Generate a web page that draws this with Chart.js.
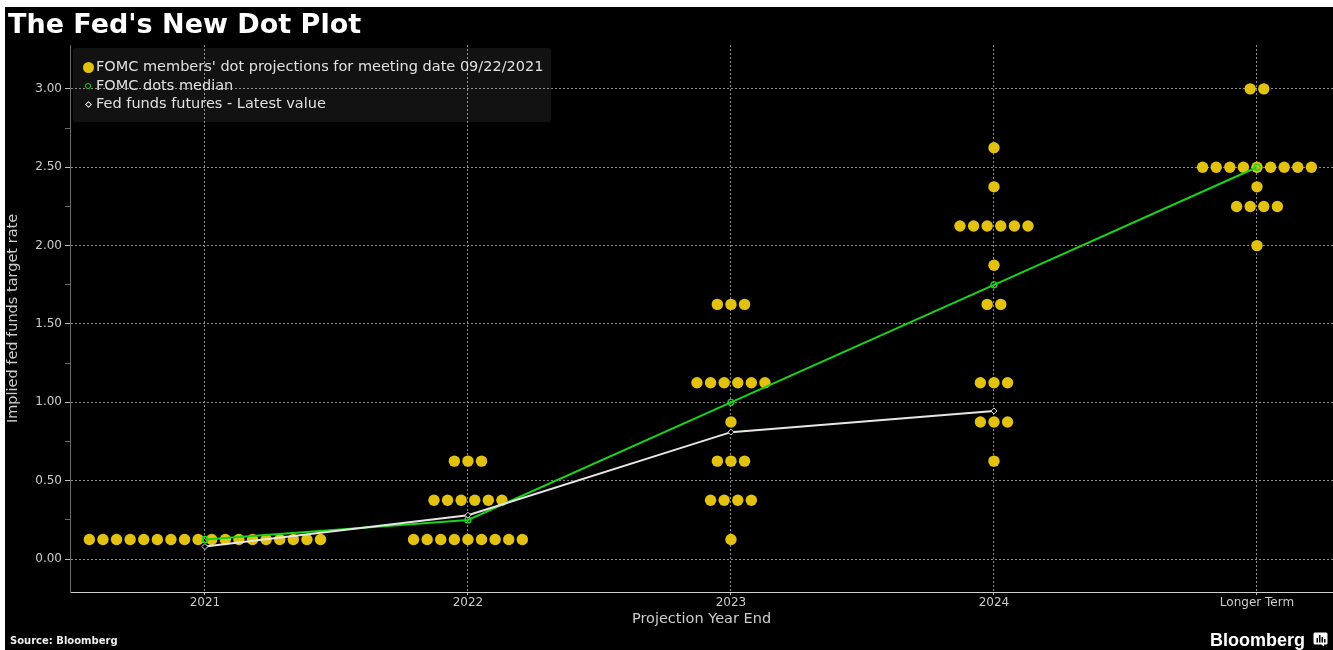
<!DOCTYPE html>
<html><head><meta charset="utf-8">
<script src="https://cdn.jsdelivr.net/npm/chart.js@4.4.1/dist/chart.umd.min.js"></script>
<style>
html,body{margin:0;padding:0;background:#fff;width:1333px;height:650px;overflow:hidden;}
#frame{position:absolute;left:5px;top:7px;width:1328px;height:643px;background:#000;overflow:hidden;}
#c{position:absolute;left:0;top:0;}
#title{position:absolute;left:3px;top:3px;font:bold 27px "DejaVu Sans";line-height:27px;color:#fff;white-space:nowrap;}
#legend{position:absolute;left:68px;top:41px;width:478px;height:74px;background:rgba(255,255,255,0.07);border-radius:3px;}
.row{position:absolute;left:23px;height:18px;line-height:18px;font:14.5px "DejaVu Sans";color:#e0e0e0;white-space:nowrap;}
.mk{position:absolute;box-sizing:border-box;}
#source{position:absolute;left:5px;top:629px;font:bold 10px "DejaVu Sans";line-height:10px;color:#eee;white-space:nowrap;}
#brand{position:absolute;left:1205px;top:624px;font:bold 18px "Liberation Sans";line-height:18px;color:#fff;white-space:nowrap;}
#icon{position:absolute;left:1308px;top:625px;}
</style>
</head><body>
<div id="frame">
  <canvas id="c" width="1328" height="643"></canvas>
  <div id="title">The Fed's New Dot Plot</div>
  <div id="legend">
    <div class="mk" style="left:9.5px;top:13.5px;width:11px;height:11px;border-radius:50%;background:#e2c111;"></div>
    <div class="row" style="top:10px;">FOMC members' dot projections for meeting date 09/22/2021</div>
    <div class="mk" style="left:12px;top:35px;width:6px;height:6px;border-radius:50%;border:1.3px solid #19d419;"></div>
    <div class="row" style="top:29px;">FOMC dots median</div>
    <div class="mk" style="left:12.5px;top:53.5px;width:5px;height:5px;border:1px solid #ddd;transform:rotate(45deg);"></div>
    <div class="row" style="top:47px;">Fed funds futures - Latest value</div>
  </div>
  <div id="source">Source: Bloomberg</div>
  <div id="brand">Bloomberg</div>
  <svg id="icon" width="15" height="15" viewBox="0 0 15 15">
    <path d="M2 0.5 H13 A1.5 1.5 0 0 1 14.5 2 V11 A1.5 1.5 0 0 1 13 12.5 H11 L11 14.5 L8.5 12.5 H2 A1.5 1.5 0 0 1 0.5 11 V2 A1.5 1.5 0 0 1 2 0.5 Z" fill="#fff"/>
    <rect x="3.5" y="6" width="1.5" height="4.5" fill="#000"/>
    <rect x="6" y="3" width="1.5" height="7.5" fill="#000"/>
    <rect x="8.5" y="5" width="1.5" height="5.5" fill="#000"/>
    <rect x="11" y="7" width="1.5" height="3.5" fill="#000"/>
  </svg>
</div>
<script>
// ---- data ----
const categories = ['2021', '2022', '2023', '2024', 'Longer Term'];
const dotRates = [
  [0.125],
  [0.125, 0.375, 0.625],
  [0.125, 0.375, 0.625, 0.875, 1.125, 1.625],
  [0.625, 0.875, 1.125, 1.625, 1.875, 2.125, 2.375, 2.625],
  [2.0, 2.25, 2.375, 2.5, 3.0]
];
const dotCounts = [
  [18],
  [9, 6, 3],
  [1, 4, 3, 1, 6, 3],
  [1, 3, 3, 2, 1, 6, 1, 1],
  [1, 4, 1, 9, 2]
];
const medianValues = [0.125, 0.25, 1.0, 1.75, 2.5];
const futuresValues = [0.08, 0.28, 0.81, 0.945];
const yTickValues = [0, 0.25, 0.5, 0.75, 1, 1.25, 1.5, 1.75, 2, 2.25, 2.5, 2.75, 3];

// ---- layout helpers ----
const DOT_GAP = 0.0517; // horizontal spacing between stacked dots (x-units)
const dotPoints = [];
dotRates.forEach((rates, i) => {
  rates.forEach((r, j) => {
    const n = dotCounts[i][j];
    for (let k = 0; k < n; k++) {
      dotPoints.push({x: i + (k - (n - 1) / 2) * DOT_GAP, y: r});
    }
  });
});
const isMajor = v => Math.abs(v * 2 - Math.round(v * 2)) < 1e-9;
const font12 = {family: 'DejaVu Sans', size: 12};
const fontTitle = {family: 'DejaVu Sans', size: 14.5};

new Chart(document.getElementById('c'), {
  type: 'scatter',
  data: {
    datasets: [
      {
        type: 'line', label: 'Fed funds futures - Latest value',
        data: futuresValues.map((v, i) => ({x: i, y: v})),
        borderColor: '#e6e6e6', borderWidth: 2, tension: 0,
        pointStyle: 'rectRot', pointRadius: 3, pointBorderWidth: 1,
        pointBorderColor: '#dddddd', pointBackgroundColor: '#000', order: 0
      },
      {
        type: 'line', label: 'FOMC dots median',
        data: medianValues.map((v, i) => ({x: i, y: v})),
        borderColor: '#19d419', borderWidth: 2, tension: 0,
        pointStyle: 'circle', pointRadius: 3, pointBorderWidth: 1.3,
        pointBorderColor: '#19d419', pointBackgroundColor: 'rgba(0,0,0,0)', order: 1
      },
      {
        type: 'scatter', label: "FOMC members' dot projections",
        data: dotPoints, pointRadius: 5.7, pointBorderWidth: 0,
        backgroundColor: '#e2c111', borderColor: '#e2c111', order: 2
      }
    ]
  },
  options: {
    responsive: false, animation: false, events: [],
    devicePixelRatio: 1,
    layout: {autoPadding: false, padding: {top: 38, right: 0, bottom: 22, left: 0}},
    plugins: {legend: {display: false}, tooltip: {enabled: false}},
    scales: {
      x: {
        type: 'linear', min: -0.513, max: 4.289,
        afterBuildTicks: s => { s.ticks = categories.map((c, i) => ({value: i})); },
        afterFit: s => { s.height = 36; s.paddingLeft = 0; s.paddingRight = 0; },
        ticks: {callback: v => categories[v], color: '#cccccc', font: font12, padding: 1, maxRotation: 0, autoSkip: false},
        grid: {color: '#8c8c8c', lineWidth: 1, tickLength: 3, tickColor: '#bbbbbb'},
        border: {color: '#d0d0d0', width: 1, dash: [2, 2]},
        title: {display: true, text: 'Projection Year End', color: '#cccccc', font: fontTitle, padding: 0}
      },
      y: {
        type: 'linear', min: -0.21, max: 3.28,
        afterBuildTicks: s => { s.ticks = yTickValues.map(v => ({value: v})); },
        afterFit: s => { s.width = 65; s.paddingTop = 0; s.paddingBottom = 0; },
        ticks: {callback: v => isMajor(v) ? v.toFixed(2) : '', color: '#cccccc', font: font12, padding: 3, autoSkip: false},
        grid: {
          color: c => (c.tick && isMajor(c.tick.value)) ? '#8c8c8c' : 'rgba(0,0,0,0)',
          tickColor: c => (c.tick && isMajor(c.tick.value)) ? '#bbbbbb' : '#666666',
          lineWidth: 1, tickLength: 5
        },
        border: {color: '#6a6a6a', width: 1, dash: [2, 2]},
        title: {display: true, text: 'Implied fed funds target rate', color: '#cccccc', font: fontTitle, padding: 0}
      }
    }
  }
});
</script>
</body></html>
